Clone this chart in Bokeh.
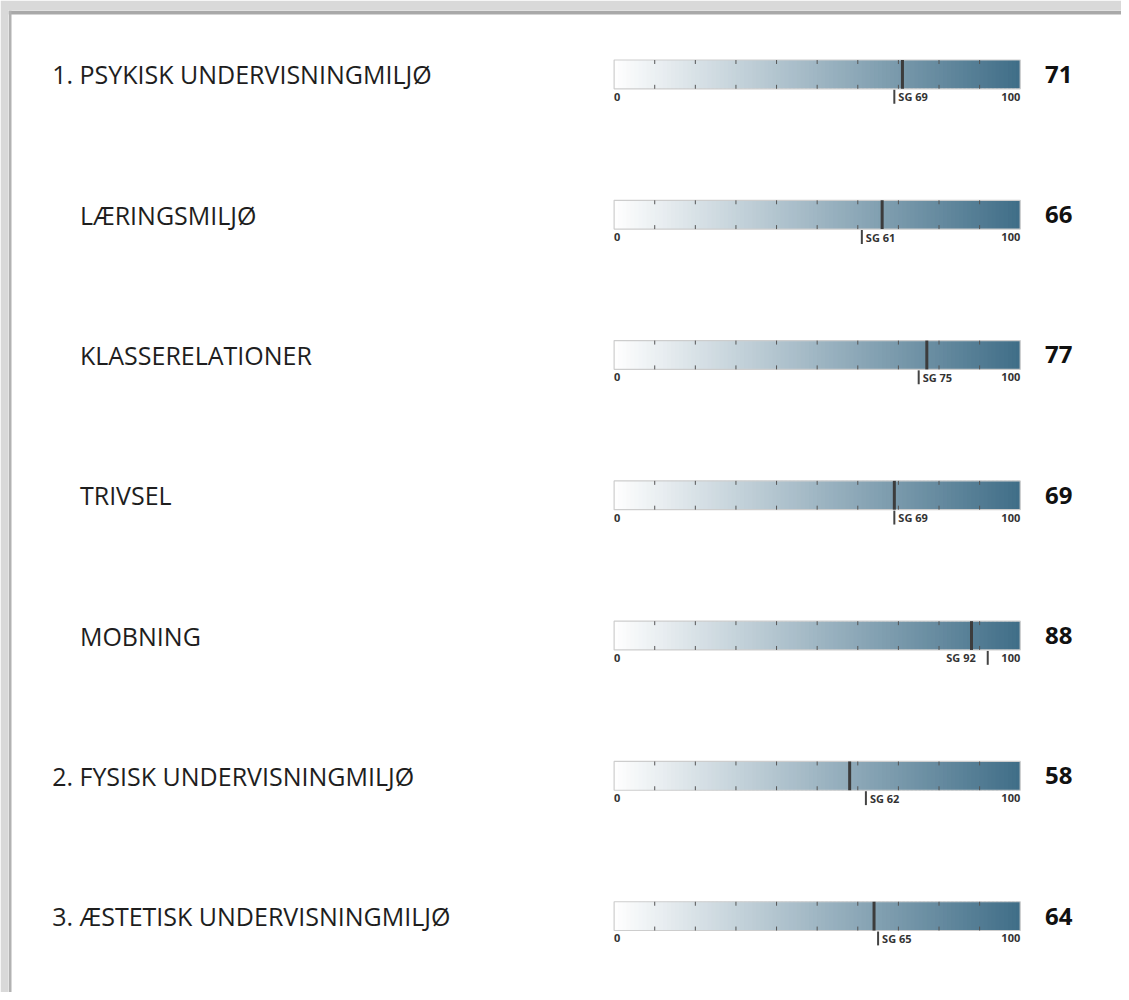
from bokeh.plotting import figure
from bokeh.models import Range1d, ColumnDataSource
from bokeh.core.properties import value
from bokeh.embed import file_html
from bokeh.resources import INLINE
import numpy as np

# ---- data ----
labels = ["1. PSYKISK UNDERVISNINGMILJØ", "LÆRINGSMILJØ", "KLASSERELATIONER",
          "TRIVSEL", "MOBNING", "2. FYSISK UNDERVISNINGMILJØ",
          "3. ÆSTETISK UNDERVISNINGMILJØ"]
indent = [False, True, True, True, True, False, False]
scores = [71, 66, 77, 69, 88, 58, 64]
sg_values = [69, 61, 75, 69, 92, 62, 65]
scale_min, scale_max = 0, 100
tick_values = [10, 20, 30, 40, 50, 60, 70, 80, 90]

# ---- layout (reference pixels scaled to figure pixels) ----
W, H = 1121, 992
SX, SY = W / 1129, H / 1000
BL, BT = 8, 10                      # border left / top
INNER_W, INNER_H = W - BL, H - BT

bar0 = 618 * SX - BL                # inner px of value 0
bar100 = 1027 * SX - BL
PPU = (bar100 - bar0) / (scale_max - scale_min)
row0 = 74.5 * SY - BT
ROW = 141.42 * SY

x_start = scale_min - bar0 / PPU
x_end = scale_min + (INNER_W - bar0) / PPU
y_top = -row0 / ROW
y_bottom = (INNER_H - row0) / ROW


def dy(px):  # pixel length -> data row length
    return px * SY / ROW


def xref(ref_px):  # reference page x -> data x
    return x_start + (ref_px * SX - BL) / PPU


p = figure(width=W, height=H, output_backend="svg", toolbar_location=None,
           x_range=Range1d(x_start, x_end), y_range=Range1d(y_bottom, y_top),
           min_border_left=BL, min_border_top=BT, min_border_right=0, min_border_bottom=0,
           x_axis_location=None, y_axis_location=None)
p.grid.visible = False
p.outline_line_color = None
p.border_fill_color = "#d9d9d9"
p.background_fill_color = "white"

# page shadow inner edges
p.quad(left=[x_start], right=[x_end], top=[y_top], bottom=[y_top + 4 / ROW],
       fill_color="#a9a9a9", line_color=None)
p.quad(left=[x_start], right=[x_start + 3 / PPU], top=[y_top], bottom=[y_bottom],
       fill_color="#b2b2b2", line_color=None)

rows = np.arange(len(labels))
HALF = dy(14.5)

# gradient bars
c0 = np.array([255, 255, 255])
c1 = np.array([64, 110, 136])
nseg = 100
seg_l, seg_r, seg_t, seg_b, seg_c = [], [], [], [], []
for r in rows:
    for k in range(nseg):
        f = (k + 0.5) / nseg
        col = (c0 + (c1 - c0) * f).astype(int)
        lo = scale_min + (scale_max - scale_min) * k / nseg
        hi = scale_min + (scale_max - scale_min) * (k + 1) / nseg
        seg_l.append(lo)
        seg_r.append(min(hi + 0.6, scale_max))
        seg_t.append(r - HALF)
        seg_b.append(r + HALF)
        seg_c.append("#%02x%02x%02x" % tuple(col))
p.quad(left=seg_l, right=seg_r, top=seg_t, bottom=seg_b, fill_color=seg_c, line_color=None)

# outline
p.quad(left=[scale_min] * len(rows), right=[scale_max] * len(rows),
       top=list(rows - HALF), bottom=list(rows + HALF),
       fill_color=None, line_color="#cdcdcd", line_width=1.2)

# ticks
TL = dy(4)
tx0, ty0, tx1, ty1 = [], [], [], []
for r in rows:
    for t in tick_values:
        tx0 += [t, t]; tx1 += [t, t]
        ty0 += [r - HALF, r + HALF - TL]
        ty1 += [r - HALF + TL, r + HALF]
p.segment(x0=tx0, y0=ty0, x1=tx1, y1=ty1, line_color="#555555", line_width=1)

# score markers
p.segment(x0=scores, x1=scores, y0=list(rows - HALF), y1=list(rows + HALF),
          line_color="#3c3c3c", line_width=3)

# SG markers
SG0, SG1 = dy(15.5), dy(29.5)
p.segment(x0=sg_values, x1=sg_values, y0=list(rows + SG0), y1=list(rows + SG1),
          line_color="#444444", line_width=2)

SG_TEXT_Y = dy(22.5)
sg_right = [v <= 85 for v in sg_values]
src_r = ColumnDataSource(dict(x=[v for v, ok in zip(sg_values, sg_right) if ok],
                              y=[r + SG_TEXT_Y for r, ok in zip(rows, sg_right) if ok],
                              t=["SG %d" % v for v, ok in zip(sg_values, sg_right) if ok]))
src_l = ColumnDataSource(dict(x=[v for v, ok in zip(sg_values, sg_right) if not ok],
                              y=[r + SG_TEXT_Y for r, ok in zip(rows, sg_right) if not ok],
                              t=["SG %d" % v for v, ok in zip(sg_values, sg_right) if not ok]))
small = dict(text_font=value("Open Sans"), text_font_size="11px", text_font_style="bold",
             text_color="#333333", text_baseline="middle")
p.text(x="x", y="y", text="t", source=src_r, text_align="left", x_offset=4, **small)
p.text(x="x", y="y", text="t", source=src_l, text_align="right", x_offset=-12, **small)

# 0 and 100 labels
p.text(x=[scale_min] * len(rows), y=list(rows + SG_TEXT_Y), text=[str(scale_min)] * len(rows),
       text_align="left", **small)
p.text(x=[scale_max] * len(rows), y=list(rows + SG_TEXT_Y), text=[str(scale_max)] * len(rows),
       text_align="right", **small)

# score values
p.text(x=[xref(1052)] * len(rows), y=list(rows), text=[str(v) for v in scores],
       text_align="left", text_baseline="middle",
       text_font=value("Open Sans"), text_font_size="24px", text_font_style="bold",
       text_color="#111111")

# row labels
p.text(x=[xref(80) if ind else xref(52) for ind in indent], y=list(rows), text=labels,
       text_align="left", text_baseline="middle",
       text_font=value("Open Sans"), text_font_size="25px", text_color="#1e1e1e")

open("out.html", "w").write(file_html(p, INLINE))
